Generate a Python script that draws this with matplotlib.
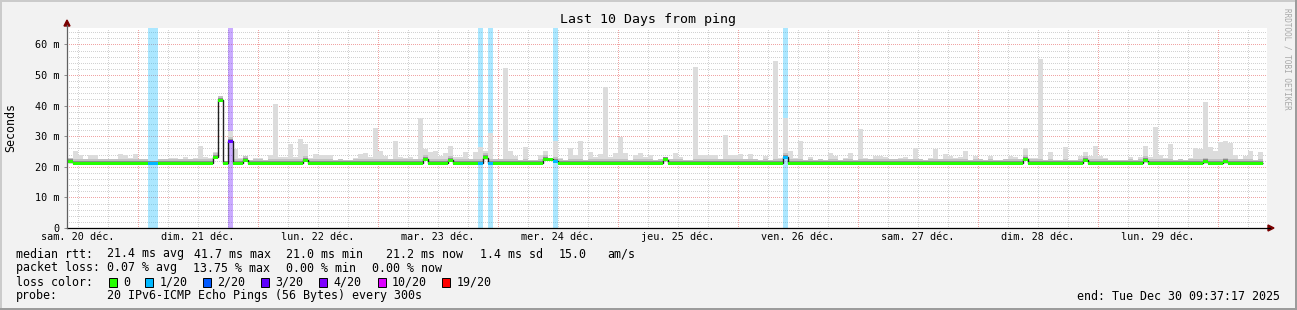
import numpy as np
import matplotlib.pyplot as plt
from matplotlib.patches import Rectangle, Polygon

W, H = 1297, 310

# hourly bins, hours counted from sam. 20 déc. 00:00
hours = np.arange(10, 249)

# top of the smoke (slowest ping) per hour, ms
smoke_max = [
    22.8, 25.2, 24.0, 22.6, 23.8, 23.8, 22.5, 22.5, 22.5, 22.5, 24.3, 23.9, 22.8, 24.1,
    22.6, 22.6, 22.0, 22.0, 22.4, 22.4, 23.0, 23.0, 22.6, 23.2, 22.6, 23.0, 26.9, 23.2, 23.0, 25.0, 43.0, 21.8, 31.7, 25.7, 23.0, 23.5, 22.3, 23.0,
    23.0, 22.3, 24.0, 40.5, 23.3, 23.3, 27.4, 23.3, 29.1, 27.4, 23.0, 24.2, 23.9, 23.9, 23.9, 22.1, 22.5, 22.1, 22.1, 22.8, 24.2, 24.5, 23.3, 32.7,
    25.2, 23.5, 22.5, 28.4, 23.3, 23.0, 23.3, 22.5, 35.8, 25.8, 24.9, 25.3, 23.5, 24.6, 26.9, 23.2, 23.2, 24.8, 22.5, 24.9, 26.6, 25.3, 31.1, 22.5,
    22.5, 52.4, 25.2, 23.6, 22.1, 26.4, 22.1, 22.1, 23.9, 25.2, 23.0, 28.4, 23.0, 22.1, 26.0, 23.9, 28.4, 22.1, 24.8, 23.2, 24.3, 46.2, 23.2, 24.4,
    29.8, 24.5, 22.1, 23.9, 24.5, 23.2, 23.9, 22.1, 22.5, 23.2, 22.5, 24.5, 23.2, 22.1, 22.1, 52.6, 23.9, 23.9, 23.9, 23.9, 22.5, 30.4, 23.9, 23.9,
    24.2, 22.5, 24.3, 22.5, 22.1, 23.6, 22.1, 54.6, 22.8, 35.8, 25.3, 22.8, 28.4, 22.1, 23.2, 22.1, 22.5, 22.1, 24.5, 23.6, 22.1, 23.0, 24.5, 22.1,
    32.4, 23.0, 22.5, 23.6, 23.6, 23.2, 22.5, 22.5, 23.0, 23.2, 22.5, 26.1, 22.5, 22.1, 23.0, 25.9, 22.5, 24.3, 23.6, 22.8, 23.2, 25.2, 22.1, 23.6,
    22.5, 22.1, 23.6, 22.1, 22.1, 22.5, 23.6, 23.3, 22.5, 26.0, 22.8, 22.8, 55.2, 22.1, 24.8, 22.1, 22.1, 26.4, 22.1, 22.1, 23.6, 24.8, 23.6, 26.8,
    23.6, 22.8, 22.1, 22.1, 22.1, 22.1, 23.2, 22.1, 23.2, 26.9, 23.2, 33.0, 23.9, 23.0, 27.4, 22.1, 22.5, 22.1, 22.8, 26.1, 25.9, 41.1, 26.4, 25.2,
    28.2, 28.4, 27.9, 23.9, 22.5, 23.6, 25.0, 22.1, 24.8,
]

# median rtt per hour, ms
median = [
    21.7, 21.2, 21.2, 21.2, 21.2, 21.2, 21.2, 21.2, 21.2, 21.2, 21.2, 21.2, 21.2, 21.2,
    21.2, 21.2, 21.2, 21.2, 21.2, 21.2, 21.2, 21.2, 21.2, 21.2, 21.2, 21.2, 21.2, 21.2, 21.2, 23.1, 41.7, 21.1, 28.3, 21.2, 21.2, 22.1, 21.2, 21.2,
    21.2, 21.2, 21.2, 21.2, 21.2, 21.2, 21.2, 21.2, 21.2, 22.1, 21.2, 21.2, 21.2, 21.2, 21.2, 21.2, 21.2, 21.2, 21.2, 21.2, 21.2, 21.2, 21.2, 21.2,
    21.2, 21.2, 21.2, 21.2, 21.2, 21.2, 21.2, 21.2, 21.2, 22.4, 21.2, 21.2, 21.2, 21.2, 22.1, 21.2, 21.2, 21.2, 21.2, 21.2, 21.2, 23.0, 21.2, 21.2,
    21.2, 21.2, 21.2, 21.2, 21.2, 21.2, 21.2, 21.2, 21.2, 22.4, 22.4, 21.8, 21.2, 21.2, 21.2, 21.2, 21.2, 21.2, 21.2, 21.2, 21.2, 21.2, 21.2, 21.2,
    21.2, 21.2, 21.2, 21.2, 21.2, 21.2, 21.2, 21.2, 21.2, 22.3, 21.2, 21.2, 21.2, 21.2, 21.2, 21.2, 21.2, 21.2, 21.2, 21.2, 21.2, 21.2, 21.2, 21.2,
    21.2, 21.2, 21.2, 21.2, 21.2, 21.2, 21.2, 21.2, 21.2, 23.1, 21.2, 21.2, 21.2, 21.2, 21.2, 21.2, 21.2, 21.2, 21.2, 21.2, 21.2, 21.2, 21.2, 21.2,
    21.2, 21.2, 21.2, 21.2, 21.2, 21.2, 21.2, 21.2, 21.2, 21.2, 21.2, 21.2, 21.2, 21.2, 21.2, 21.2, 21.2, 21.2, 21.2, 21.2, 21.2, 21.2, 21.2, 21.2,
    21.2, 21.2, 21.2, 21.2, 21.2, 21.2, 21.2, 21.2, 21.2, 22.4, 21.2, 21.2, 21.2, 21.2, 21.2, 21.2, 21.2, 21.2, 21.2, 21.2, 21.2, 22.1, 21.2, 21.2,
    21.2, 21.2, 21.2, 21.2, 21.2, 21.2, 21.2, 21.2, 21.2, 22.0, 21.2, 21.2, 21.2, 21.2, 21.2, 21.2, 21.2, 21.2, 21.2, 21.2, 21.2, 21.6, 21.2, 21.2,
    21.2, 21.6, 21.2, 21.2, 21.2, 21.2, 21.2, 21.2, 21.2,
]

# hours with packet loss and their loss level (index into loss_colors)
loss_hours = [26, 27, 42, 92, 94, 107, 153]
loss_level = [1, 1, 3, 1, 1, 1, 1]

loss_colors = ['#26ff00', '#00b8ff', '#0059ff', '#5e00ff', '#7e00ff', '#dd00ff', '#ff0000']
loss_labels = ['0', '1/20', '2/20', '3/20', '4/20', '10/20', '19/20']

day_labels = ['sam. 20 déc.', 'dim. 21 déc.', 'lun. 22 déc.', 'mar. 23 déc.', 'mer. 24 déc.',
              'jeu. 25 déc.', 'ven. 26 déc.', 'sam. 27 déc.', 'dim. 28 déc.', 'lun. 29 déc.']
day_noons = [12 + 24 * i for i in range(len(day_labels))]

y_ticks = [0, 10, 20, 30, 40, 50, 60]
y_ticklabels = ['0', '10 m', '20 m', '30 m', '40 m', '50 m', '60 m']

plt.rcParams['font.family'] = 'DejaVu Sans Mono'

smoke_max = np.array(smoke_max)
median = np.array(median)
lvl = np.zeros(len(hours), dtype=int)
for h, l in zip(loss_hours, loss_level):
    lvl[h - hours[0]] = l

fig = plt.figure(figsize=(W / 100, H / 100), dpi=100)
fig.patch.set_facecolor('#f2f2f2')
ax = fig.add_axes([67 / W, 82 / H, 1200 / W, 200 / H])
ymax = 200 / 3.06
ax.set_xlim(9.86, 249.86)
ax.set_ylim(0, ymax)
ax.set_facecolor('white')
for s in ax.spines.values():
    s.set_visible(False)

# grid (crisp 1px dots)
dots = (0, (1, 2))
for h in np.arange(12, 250, 6):
    if h % 24:
        ax.axvline(h, color='#d2d2d2', lw=0.72, ls=dots, antialiased=False, zorder=0)
for v in np.arange(2, ymax, 2):
    if v % 10:
        ax.axhline(v, color='#d2d2d2', lw=0.72, ls=dots, antialiased=False, zorder=0)
for h in np.arange(24, 250, 24):
    ax.axvline(h, color='#f0a4a4', lw=0.72, ls=dots, antialiased=False, zorder=0.5)
for v in range(10, 61, 10):
    ax.axhline(v, color='#f0a4a4', lw=0.72, ls=dots, antialiased=False, zorder=0.5)

# loss background
for h, l in zip(loss_hours, loss_level):
    ax.bar(h, ymax, width=1, align='edge', color=loss_colors[l], alpha=0.33, lw=0, zorder=1)

# smoke
ax.bar(hours, smoke_max - median, bottom=median, width=1, align='edge', color='#dcdcdc', lw=0, zorder=2)
mid = np.minimum(smoke_max, median + 1.4)
ax.bar(hours, mid - median, bottom=median, width=1, align='edge', color='#c2c2c2', lw=0, zorder=2.1)
dark = np.minimum(smoke_max, median + 0.8)
ax.bar(hours, dark - median, bottom=median, width=1, align='edge', color='#8c8c8c', lw=0, zorder=2.2)

# median
edges = np.append(hours, hours[-1] + 1)
ax.stairs(median, edges, baseline=None, color='#202020', lw=1.0, zorder=3)
ax.bar(hours, 1.0, bottom=median - 0.5, width=1, align='edge',
       color=[loss_colors[l] for l in lvl], lw=0, zorder=4)

ax.set_xticks([])
ax.set_yticks(y_ticks, y_ticklabels)
ax.tick_params(axis='y', length=2.5, width=0.72, color='#909090', pad=3.2, labelsize=7.3)

for h, lab in zip(day_noons, day_labels):
    ax.text(h, -0.045, lab, transform=ax.get_xaxis_transform(), ha='center', va='center', fontsize=7.3)


def fx(x):
    return x / W


def fy(y):
    return 1 - y / H


# axes lines and arrows
fig.add_artist(plt.Line2D([fx(67), fx(1270)], [fy(228), fy(228)], color='black', lw=0.9))
fig.add_artist(plt.Line2D([fx(67), fx(67)], [fy(228), fy(25)], color='#606060', lw=0.9))
fig.add_artist(Polygon([[fx(64), fy(26)], [fx(70), fy(26)], [fx(67), fy(20)]], color='#7a0000'))
fig.add_artist(Polygon([[fx(1268), fy(225)], [fx(1268), fy(231)], [fx(1274), fy(228)]], color='#7a0000'))

# frame
fig.add_artist(Rectangle((0, 0), 1, 2 / H, color='#9c9c9c', lw=0))
fig.add_artist(Rectangle((1 - 2 / W, 0), 2 / W, 1, color='#9c9c9c', lw=0))
fig.add_artist(Rectangle((0, 1 - 2 / H), 1 - 2 / W, 2 / H, color='#cbcbcb', lw=0))
fig.add_artist(Rectangle((0, 2 / H), 2 / W, 1 - 4 / H, color='#cbcbcb', lw=0))

fig.text(fx(648), fy(19), 'Last 10 Days from ping', ha='center', va='center', fontsize=9.5)
fig.text(fx(11), fy(127), 'Seconds', rotation=90, ha='center', va='center', fontsize=8.4)
fig.text(fx(1287), fy(59), 'RRDTOOL / TOBI OETIKER', rotation=-90, ha='center', va='center',
         fontsize=5.5, color='#a8a8a8')

leg = 8.4
fig.text(fx(16), fy(254), 'median rtt:', va='center', fontsize=leg)
for x, t in zip([107, 193.6, 286, 386, 480, 558.5, 607],
                ['21.4 ms avg', '41.7 ms max', '21.0 ms min', '21.2 ms now', '1.4 ms sd', '15.0', 'am/s']):
    fig.text(fx(x), fy(254), t, va='center', fontsize=leg)
fig.text(fx(16), fy(268), 'packet loss:', va='center', fontsize=leg)
for x, t in zip([107, 193, 286, 372.5], ['0.07 % avg', '13.75 % max', '0.00 % min', '0.00 % now']):
    fig.text(fx(x), fy(268), t, va='center', fontsize=leg)
fig.text(fx(16), fy(282), 'loss color:', va='center', fontsize=leg)
for x, c, t in zip([108.6, 145, 203, 261, 319, 377.5, 442], loss_colors, loss_labels):
    fig.add_artist(Rectangle((fx(x), fy(286.5)), 8 / W, 9 / H, facecolor=c, edgecolor='black', lw=0.7))
    fig.text(fx(x + 14.5), fy(282), t, va='center', fontsize=leg)
fig.text(fx(16), fy(296), 'probe:', va='center', fontsize=leg)
fig.text(fx(107), fy(296), '20 IPv6-ICMP Echo Pings (56 Bytes) every 300s', va='center', fontsize=leg)
fig.text(fx(1280), fy(296), 'end: Tue Dec 30 09:37:17 2025', ha='right', va='center', fontsize=leg)

fig.savefig('out.png', dpi=100, facecolor=fig.get_facecolor())
